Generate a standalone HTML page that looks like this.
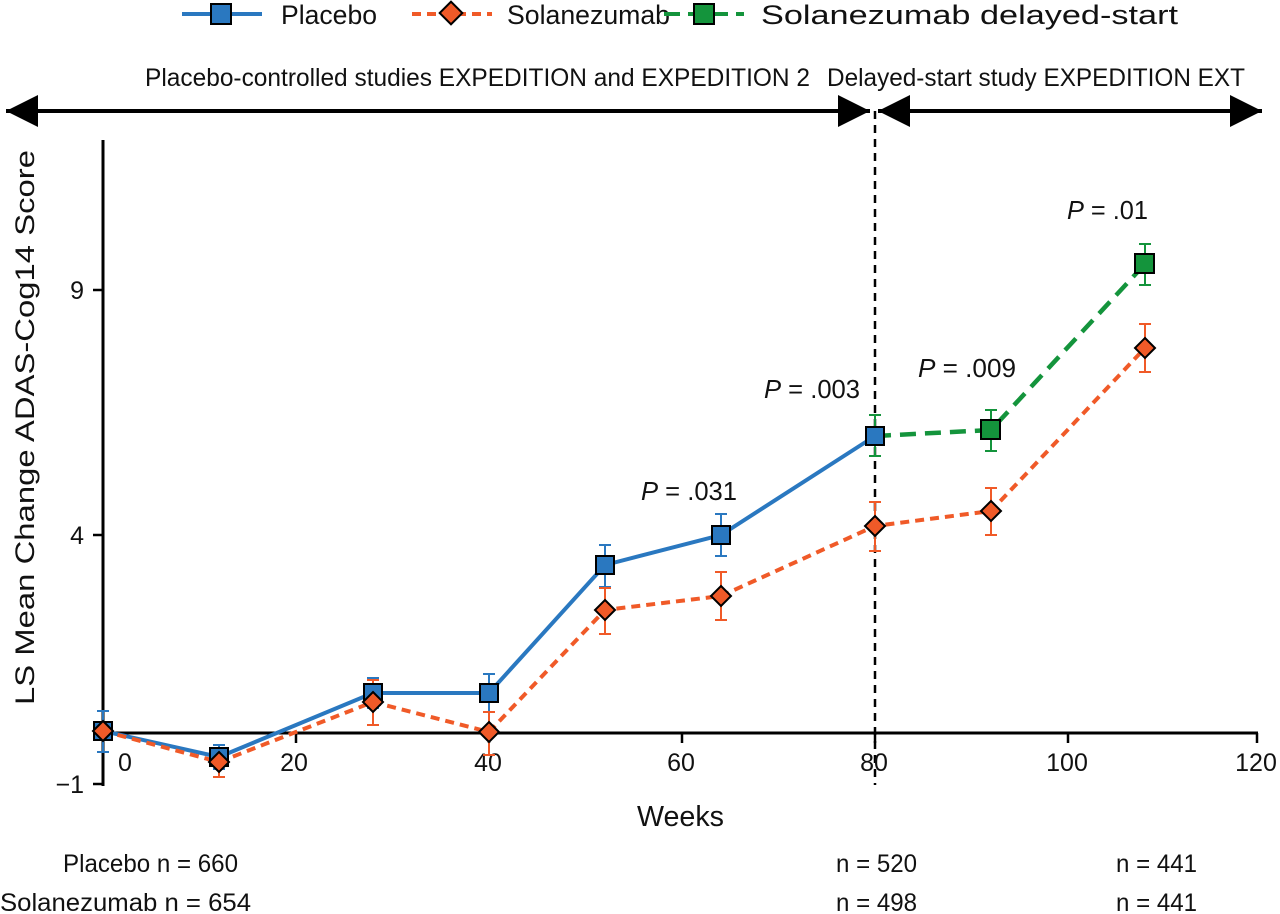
<!DOCTYPE html><html><head><meta charset="utf-8"><style>body{margin:0;background:#fff}svg{display:block}text{font-family:"Liberation Sans Narrow","Liberation Sans",sans-serif;fill:#111}</style></head><body>
<svg width="1280" height="914" viewBox="0 0 1280 914">
<defs>
<marker id="ah" viewBox="0 0 10 10" refX="10" refY="5" markerWidth="8" markerHeight="8" orient="auto-start-reverse"><path d="M0,0L10,5L0,10z" fill="#000"/></marker>
</defs>
<g font-size="27">
<line x1="182" y1="14" x2="262" y2="14" stroke="#2a78c0" stroke-width="4"/><rect x="211" y="4" width="20" height="20" fill="#2a78c0" stroke="#000" stroke-width="2"/><text x="281" y="24" textLength="96" lengthAdjust="spacingAndGlyphs">Placebo</text>
<line x1="412" y1="14" x2="492" y2="14" stroke="#f05a28" stroke-width="4" stroke-dasharray="9,6"/><rect x="443" y="5" width="16" height="16" fill="#f05a28" stroke="#000" stroke-width="2" transform="rotate(45 451 13)"/><text x="507" y="24" textLength="163" lengthAdjust="spacingAndGlyphs">Solanezumab</text>
<line x1="664" y1="14" x2="744" y2="14" stroke="#14943c" stroke-width="4" stroke-dasharray="16,8"/><rect x="694" y="4" width="20" height="20" fill="#14943c" stroke="#000" stroke-width="2"/><text x="761" y="24" textLength="417" lengthAdjust="spacingAndGlyphs">Solanezumab delayed-start</text>
</g>
<text x="145" y="86" font-size="25" textLength="665" lengthAdjust="spacingAndGlyphs">Placebo-controlled studies EXPEDITION and EXPEDITION 2</text>
<text x="827" y="86" font-size="25" textLength="418" lengthAdjust="spacingAndGlyphs">Delayed-start study EXPEDITION EXT</text>
<line x1="6" y1="111" x2="870" y2="111" stroke="#000" stroke-width="4" marker-start="url(#ah)" marker-end="url(#ah)"/>
<line x1="878" y1="111" x2="1262" y2="111" stroke="#000" stroke-width="4" marker-start="url(#ah)" marker-end="url(#ah)"/>
<line x1="875" y1="111" x2="875" y2="785" stroke="#000" stroke-width="2.5" stroke-dasharray="8,6"/>
<line x1="103" y1="140" x2="103" y2="786" stroke="#000" stroke-width="3"/>
<line x1="103" y1="733" x2="1258" y2="733" stroke="#000" stroke-width="3"/>
<g stroke="#000" stroke-width="2.5">
<line x1="93" y1="290" x2="103" y2="290"/><line x1="93" y1="535" x2="103" y2="535"/><line x1="93" y1="784" x2="103" y2="784"/>
<line x1="296" y1="733" x2="296" y2="743"/><line x1="489" y1="733" x2="489" y2="743"/><line x1="682" y1="733" x2="682" y2="743"/><line x1="875" y1="733" x2="875" y2="743"/><line x1="1068" y1="733" x2="1068" y2="743"/><line x1="1257" y1="733" x2="1257" y2="743"/>
</g>
<g font-size="25" text-anchor="end"><text x="84" y="299">9</text><text x="84" y="544">4</text><text x="84" y="793">−1</text></g>
<g font-size="25" text-anchor="middle"><text x="125" y="771">0</text><text x="294" y="771">20</text><text x="488" y="771">40</text><text x="681" y="771">60</text><text x="874" y="771">80</text><text x="1067" y="771">100</text><text x="1256" y="771">120</text></g>
<text x="637" y="826" font-size="29" textLength="87" lengthAdjust="spacingAndGlyphs">Weeks</text>
<text transform="translate(34 705) rotate(-90)" font-size="27" textLength="555" lengthAdjust="spacingAndGlyphs">LS Mean Change ADAS-Cog14 Score</text>
<g font-size="25">
<text x="63" y="872" textLength="175" lengthAdjust="spacingAndGlyphs">Placebo  n = 660</text>
<text x="0" y="911" textLength="251" lengthAdjust="spacingAndGlyphs">Solanezumab  n = 654</text>
<text x="836" y="872" textLength="81" lengthAdjust="spacingAndGlyphs">n = 520</text><text x="836" y="911" textLength="81" lengthAdjust="spacingAndGlyphs">n = 498</text>
<text x="1116" y="872" textLength="81" lengthAdjust="spacingAndGlyphs">n = 441</text><text x="1116" y="911" textLength="81" lengthAdjust="spacingAndGlyphs">n = 441</text></g>
<g font-size="26">
<text x="641" y="500" textLength="96" lengthAdjust="spacingAndGlyphs"><tspan font-style="italic">P</tspan> = .031</text>
<text x="764" y="398" textLength="96" lengthAdjust="spacingAndGlyphs"><tspan font-style="italic">P</tspan> = .003</text>
<text x="918" y="377" textLength="98" lengthAdjust="spacingAndGlyphs"><tspan font-style="italic">P</tspan> = .009</text>
<text x="1067" y="219" textLength="81" lengthAdjust="spacingAndGlyphs"><tspan font-style="italic">P</tspan> = .01</text></g>
<g stroke="#2a78c0" stroke-width="2">
<path d="M103,711V752M97,711H109M97,752H109M219,745V769M213,745H225M213,769H225M373,678V708M367,678H379M367,708H379M489,674V712M483,674H495M483,712H495M605,545V587M599,545H611M599,587H611M721,514V556M715,514H727M715,556H727"/>
</g>
<g stroke="#14943c" stroke-width="2"><path d="M875,415V456M869,415H881M869,456H881M991,410V451M985,410H997M985,451H997M1145,244V285M1139,244H1151M1139,285H1151"/></g>
<g stroke="#f05a28" stroke-width="2"><path d="M219,748V777M213,748H225M213,777H225M373,680V725M367,680H379M367,725H379M489,712V755M483,712H495M483,755H495M605,588V634M599,588H611M599,634H611M721,572V620M715,572H727M715,620H727M875,502V551M869,502H881M869,551H881M991,488V535M985,488H997M985,535H997M1145,324V372M1139,324H1151M1139,372H1151"/></g>
<polyline points="103,731 219,757 373,693 489,693 605,565 721,535 875,436" fill="none" stroke="#2a78c0" stroke-width="4"/>
<polyline points="103,731 219,762 373,702 489,732 605,610 721,596 875,526 991,511 1145,348" fill="none" stroke="#f05a28" stroke-width="4" stroke-dasharray="9,6"/>
<polyline points="875,436 991,430 1145,264" fill="none" stroke="#14943c" stroke-width="4.5" stroke-dasharray="16,9"/>
<g fill="#2a78c0" stroke="#000" stroke-width="2">
<rect x="94" y="722" width="18" height="18"/><rect x="210" y="748" width="18" height="18"/><rect x="364" y="684" width="18" height="18"/><rect x="480" y="684" width="18" height="18"/><rect x="596" y="556" width="18" height="18"/><rect x="712" y="526" width="18" height="18"/><rect x="866" y="427" width="18" height="18"/>
</g>
<g fill="#14943c" stroke="#000" stroke-width="2"><rect x="981" y="420" width="19" height="19"/><rect x="1135" y="254" width="19" height="19"/></g>
<g fill="#f05a28" stroke="#000" stroke-width="2">
<path d="M103,721l10,10l-10,10l-10,-10z M219,752l10,10l-10,10l-10,-10z M373,692l10,10l-10,10l-10,-10z M489,722l10,10l-10,10l-10,-10z M605,600l10,10l-10,10l-10,-10z M721,586l10,10l-10,10l-10,-10z M875,516l10,10l-10,10l-10,-10z M991,501l10,10l-10,10l-10,-10z M1145,338l10,10l-10,10l-10,-10z"/>
</g>
</svg>
</body></html>
